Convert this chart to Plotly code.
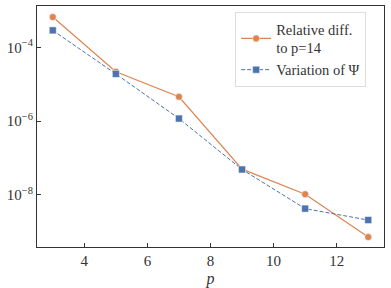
import plotly.graph_objects as go

p_vals = [3, 5, 7, 9, 11, 13]
rel_diff = [10**-3.18, 10**-4.66, 10**-5.34, 10**-7.30, 10**-7.98, 10**-9.14]
var_psi = [10**-3.54, 10**-4.72, 10**-5.93, 10**-7.31, 10**-8.37, 10**-8.68]

x_ticks = [4, 6, 8, 10, 12]
y_ticks = [1e-4, 1e-6, 1e-8]
y_ticktext = ["10<sup>−4</sup>", "10<sup>−6</sup>", "10<sup>−8</sup>"]

orange = "#DD8452"
blue = "#4C72B0"
font_family = "'Liberation Serif', 'DejaVu Serif', serif"
txt = "#333333"

fig = go.Figure()
fig.add_trace(go.Scatter(
    x=p_vals, y=rel_diff, mode="lines+markers",
    name="Relative diff.<br>to p=14",
    line=dict(color=orange, width=1.2),
    marker=dict(symbol="circle", size=7, color=orange, line=dict(color="white", width=0.5)),
))
fig.add_trace(go.Scatter(
    x=p_vals, y=var_psi, mode="lines+markers",
    name="Variation of Ψ",
    line=dict(color=blue, width=1.0, dash="4px,2px"),
    marker=dict(symbol="square", size=7, color=blue, line=dict(color="white", width=0.5)),
))

axis_common = dict(
    showline=True, linecolor=txt, linewidth=1.2, mirror=True,
    ticks="inside", ticklen=4, tickcolor=txt, tickwidth=1,
    showgrid=False, zeroline=False, automargin=False,
    tickfont=dict(family=font_family, size=15, color=txt),
)

fig.update_layout(
    width=391, height=288,
    margin=dict(l=37, r=7, t=6, b=41),
    paper_bgcolor="white", plot_bgcolor="white",
    font=dict(family=font_family, size=14, color=txt),
    xaxis=dict(range=[2.5, 13.5], tickvals=x_ticks,
               title=dict(text="<i>p</i>", standoff=4,
                          font=dict(family=font_family, size=16, color=txt)),
               **axis_common),
    yaxis=dict(type="log", range=[-9.41, -2.88], tickvals=y_ticks, ticktext=y_ticktext,
               **axis_common),
    legend=dict(x=0.571, y=0.975, xanchor="left", yanchor="top",
                bgcolor="white", bordercolor="#dddddd", borderwidth=1,
                font=dict(family=font_family, size=14.5, color=txt),
                itemwidth=30, tracegroupgap=0),
    showlegend=True,
)

fig.write_html("out.html", config={"displayModeBar": False},
               post_script="document.body.style.margin='0';")
